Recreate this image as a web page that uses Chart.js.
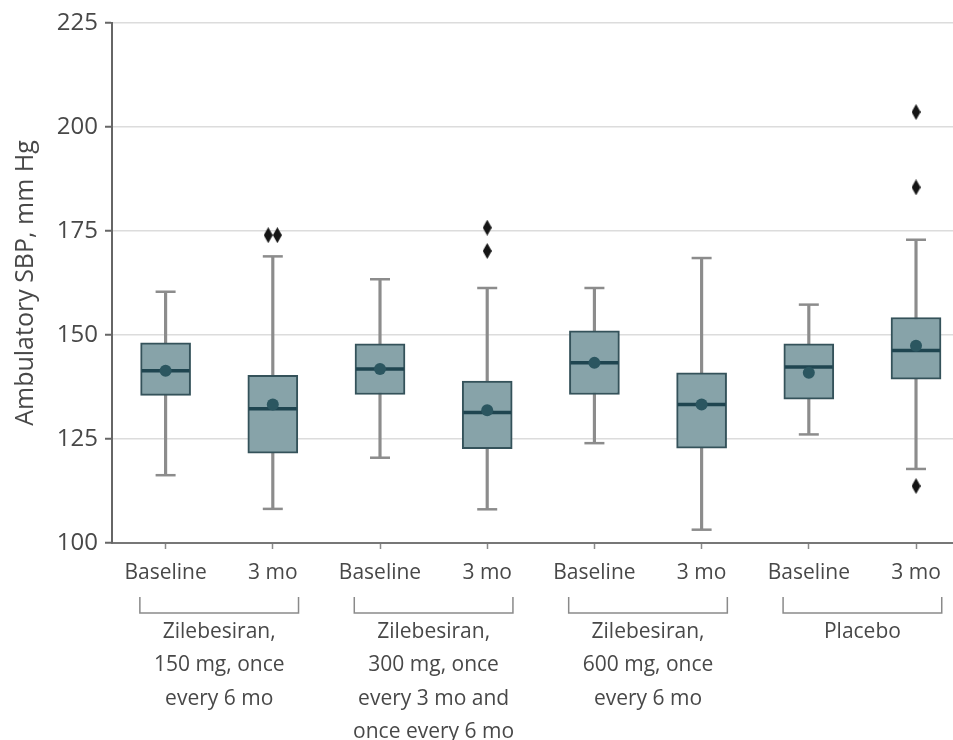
<!DOCTYPE html>
<html>
<head>
<meta charset="utf-8">
<script src="https://cdn.jsdelivr.net/npm/chart.js@4"></script>
<style>
  html, body { margin:0; padding:0; background:#fff; }
  #wrap { width:953px; height:740px; position:relative; }
</style>
</head>
<body>
<div id="wrap"><canvas id="box"></canvas></div>
<script>
// ---------- Data ----------
const categories  = ['Baseline', '3 mo', 'Baseline', '3 mo', 'Baseline', '3 mo', 'Baseline', '3 mo'];
const groupLabels = [
  ['Zilebesiran,', '150 mg, once', 'every 6 mo'],
  ['Zilebesiran,', '300 mg, once', 'every 3 mo and', 'once every 6 mo'],
  ['Zilebesiran,', '600 mg, once', 'every 6 mo'],
  ['Placebo']
];
const whiskerLow  = [116.3, 108.2, 120.5, 108.1, 124.0, 103.2, 126.1, 117.8];
const q1          = [135.5, 121.6, 135.7, 122.7, 135.7, 122.8, 134.6, 139.4];
const median      = [141.4, 132.3, 141.8, 131.4, 143.3, 133.3, 142.3, 146.3];
const mean        = [141.4, 133.3, 141.8, 131.9, 143.3, 133.3, 140.9, 147.4];
const q3          = [148.1, 140.3, 147.9, 138.9, 151.0, 140.9, 147.9, 154.2];
const whiskerHigh = [160.4, 168.9, 163.4, 161.3, 161.3, 168.5, 157.3, 172.9];
const outlierBox   = [2, 2, 4, 4, 8, 8, 8];
const outlierValue = [174, 174, 175.8, 170.2, 203.6, 185.5, 113.7];
const yTicks = [100, 125, 150, 175, 200, 225];

// ---------- Styles ----------
const FONT = 'Open Sans';
const TXT = '#484848';
const BOX_FILL = '#87a3a9';
const BOX_EDGE = '#34525a';
const MED = '#1f4550';
const MEAN = '#2b5660';
const WHISK = '#8c8c8c';

// elongated diamond marker for outliers
function diamond(w, h, color){
  const c = document.createElement('canvas');
  c.width = w; c.height = h;
  const g = c.getContext('2d');
  g.fillStyle = color;
  g.beginPath();
  g.moveTo(w/2, 0); g.lineTo(w, h/2); g.lineTo(w/2, h); g.lineTo(0, h/2);
  g.closePath(); g.fill();
  return c;
}

// spread outliers that share the same box and value side by side
function outlierPoints(){
  const seen = {};
  return outlierBox.map((b, i) => {
    const key = b + ':' + outlierValue[i];
    const n = outlierBox.filter((bb, j) => bb === b && outlierValue[j] === outlierValue[i]).length;
    seen[key] = (seen[key] || 0) + 1;
    const k = seen[key] - 1;
    const dx = n > 1 ? (k - (n - 1) / 2) * 0.085 : 0;
    return { x: b + dx, y: outlierValue[i] };
  });
}

const idx = categories.map((_, i) => i + 1);

// ---------- Group brackets + labels ----------
const groupPlugin = {
  id: 'groups',
  afterDraw(chart){
    const { ctx, scales: { x }, chartArea } = chart;
    const base = chartArea.bottom;
    ctx.save();
    ctx.strokeStyle = '#8a8a8a';
    ctx.lineWidth = 1.5;
    ctx.fillStyle = TXT;
    ctx.font = `21px "${FONT}"`;
    ctx.textAlign = 'center';
    ctx.textBaseline = 'middle';
    groupLabels.forEach((lines, g) => {
      const a = x.getPixelForValue(2 * g + 1 - 0.24);
      const b = x.getPixelForValue(2 * g + 2 + 0.24);
      ctx.beginPath();
      ctx.moveTo(a, base + 54); ctx.lineTo(a, base + 70);
      ctx.lineTo(b, base + 70); ctx.lineTo(b, base + 54);
      ctx.stroke();
      const cx = (a + b) / 2;
      lines.forEach((t, i) => ctx.fillText(t, cx, base + 89 + i * 33.5));
    });
    ctx.restore();
  }
};

// ---------- Chart ----------
new Chart(document.getElementById('box'), {
  type: 'bar',
  data: {
    datasets: [
      { type: 'scatter', label: 'mean', order: 0,
        data: idx.map((x, i) => ({ x, y: mean[i] })),
        pointStyle: 'circle', pointRadius: 6, backgroundColor: MEAN, borderWidth: 0 },
      { type: 'scatter', label: 'median', order: 1,
        data: idx.map((x, i) => ({ x, y: median[i] })),
        pointStyle: 'line', pointRadius: 24, borderColor: MED, borderWidth: 3.5 },
      { type: 'bar', label: 'IQR', order: 2, grouped: false,
        data: idx.map((x, i) => ({ x, y: [q1[i], q3[i]] })),
        barThickness: 50, backgroundColor: BOX_FILL, borderColor: BOX_EDGE,
        borderWidth: 2, borderSkipped: false },
      { type: 'scatter', label: 'caps', order: 3,
        data: idx.flatMap((x, i) => [{ x, y: whiskerLow[i] }, { x, y: whiskerHigh[i] }]),
        pointStyle: 'line', pointRadius: 10, borderColor: WHISK, borderWidth: 2.5 },
      { type: 'bar', label: 'whisker', order: 4, grouped: false,
        data: idx.map((x, i) => ({ x, y: [whiskerLow[i], whiskerHigh[i]] })),
        barThickness: 2.5, backgroundColor: WHISK, borderWidth: 0 },
      { type: 'scatter', label: 'outliers', order: 0,
        data: outlierPoints(),
        pointStyle: diamond(9, 16, '#151515'), pointRadius: 8 }
    ]
  },
  options: {
    responsive: true,
    maintainAspectRatio: false,
    animation: false,
    layout: { autoPadding: false, padding: { top: 23, right: 0, left: 0, bottom: 0 } },
    plugins: { legend: { display: false }, tooltip: { enabled: false } },
    scales: {
      x: {
        type: 'linear', min: 0.5, max: 8.345, offset: false,
        afterFit(s){ s.height = 197; s.paddingRight = 0; s.paddingLeft = 0; },
        afterBuildTicks(s){ s.ticks = idx.map(v => ({ value: v })); },
        grid: { offset: false, drawOnChartArea: false, tickLength: 6, tickColor: '#8a8a8a', tickWidth: 1.5 },
        border: { color: '#777', width: 2 },
        ticks: {
          autoSkip: false, maxRotation: 0, padding: 11, color: TXT,
          font: { family: FONT, size: 21 },
          callback: v => categories[v - 1]
        }
      },
      y: {
        min: 100, max: 225,
        afterFit(s){ s.width = 112; },
        afterBuildTicks(s){ s.ticks = yTicks.map(v => ({ value: v })); },
        grid: { color: '#dcdcdc', lineWidth: 1.5, tickLength: 7, tickColor: '#666', tickWidth: 2 },
        border: { color: '#666', width: 2 },
        ticks: { padding: 7, color: TXT, font: { family: FONT, size: 24 } },
        title: {
          display: true, text: 'Ambulatory SBP, mm Hg', color: TXT,
          font: { family: FONT, size: 25 }, padding: { top: 11, bottom: 0 }
        }
      }
    }
  },
  plugins: [groupPlugin]
});
</script>
</body>
</html>
